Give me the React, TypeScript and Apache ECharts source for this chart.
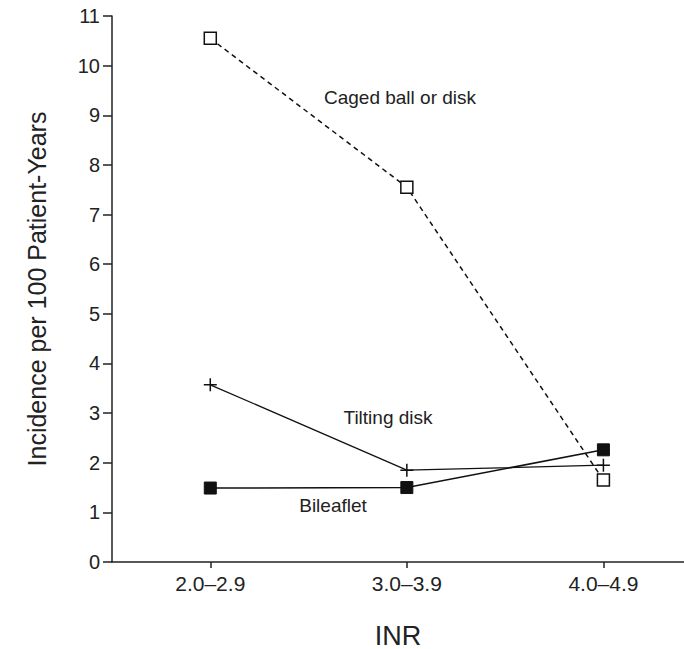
import React, { useEffect, useRef } from "react";
import * as echarts from "echarts";

const categories = ["2.0–2.9", "3.0–3.9", "4.0–4.9"];
const categoryPositions = [0.5, 1.5, 2.5];
const cagedBall = [10.55, 7.55, 1.65];
const tiltingDisk = [3.57, 1.85, 1.95];
const bileaflet = [1.49, 1.5, 2.26];
const yTicks = [0, 1, 2, 3, 4, 5, 6, 7, 8, 9, 10, 11];

const FONT = "'Liberation Sans', Arial, Helvetica, sans-serif";
const CROSS = "path://M5.3,0h1.4v12h-1.4z M0,5.3h12v1.4h-12z";

function pts(vals: number[]) {
  return vals.map((v, i) => [categoryPositions[i], v]);
}

export default function App() {
  const ref = useRef<HTMLDivElement>(null);
  useEffect(() => {
    document.body.style.margin = "0";
    if (!ref.current) return;
    const chart = echarts.init(ref.current, null, { renderer: "svg" });
    const note = (text: string, x: number, y: number) => ({
      type: "text",
      x,
      y,
      style: {
        text,
        fontFamily: FONT,
        fontSize: 19,
        fill: "#222",
        align: "center",
        verticalAlign: "middle",
      },
    });
    chart.setOption({
      animation: false,
      backgroundColor: "#ffffff",
      grid: {
        left: 112,
        right: 0,
        top: 16,
        bottom: 87,
        containLabel: false,
        outerBoundsMode: "none",
      },
      xAxis: {
        type: "value",
        min: 0,
        max: 2.91,
        name: "INR",
        nameLocation: "middle",
        nameGap: 60,
        nameTextStyle: { fontFamily: FONT, fontSize: 27, color: "#222" },
        splitLine: { show: false },
        axisLine: { show: true, lineStyle: { color: "#222", width: 1.5 } },
        axisTick: {
          show: true,
          length: 6,
          customValues: categoryPositions,
          lineStyle: { color: "#222", width: 1.5 },
        },
        axisLabel: {
          customValues: categoryPositions,
          margin: 11,
          fontFamily: FONT,
          fontSize: 21,
          color: "#222",
          formatter: (v: number) => {
            const i = categoryPositions.indexOf(v);
            return i >= 0 ? categories[i] : "";
          },
        },
      },
      yAxis: {
        type: "value",
        min: 0,
        max: 11,
        interval: 1,
        name: "Incidence per 100 Patient-Years",
        nameLocation: "middle",
        nameGap: 63,
        nameTextStyle: { fontFamily: FONT, fontSize: 25, color: "#222" },
        splitLine: { show: false },
        axisLine: { show: true, lineStyle: { color: "#222", width: 1.5 } },
        axisTick: { show: true, length: 9, lineStyle: { color: "#222", width: 1.5 } },
        axisLabel: {
          margin: 12,
          fontFamily: FONT,
          fontSize: 20,
          color: "#222",
          formatter: (v: number) => (yTicks.includes(v) ? String(v) : ""),
        },
      },
      series: [
        {
          name: "Caged ball or disk",
          type: "line",
          data: pts(cagedBall),
          symbol: "rect",
          symbolSize: 12,
          itemStyle: { color: "#ffffff", borderColor: "#111", borderWidth: 1.5 },
          lineStyle: { color: "#111", width: 1.5, type: [5, 4] },
          z: 3,
        },
        {
          name: "Tilting disk",
          type: "line",
          data: pts(tiltingDisk),
          symbol: CROSS,
          symbolSize: 13,
          itemStyle: { color: "#111", borderWidth: 0 },
          lineStyle: { color: "#111", width: 1.3 },
          z: 2,
        },
        {
          name: "Bileaflet",
          type: "line",
          data: pts(bileaflet),
          symbol: "rect",
          symbolSize: 12,
          itemStyle: { color: "#111", borderColor: "#111", borderWidth: 1 },
          lineStyle: { color: "#111", width: 1.5 },
          z: 4,
        },
      ],
      graphic: [
        note("Caged ball or disk", 400, 97),
        note("Tilting disk", 388, 417),
        note("Bileaflet", 333, 505),
      ],
    });
    return () => chart.dispose();
  }, []);
  return <div ref={ref} style={{ width: 684, height: 649 }} />;
}
